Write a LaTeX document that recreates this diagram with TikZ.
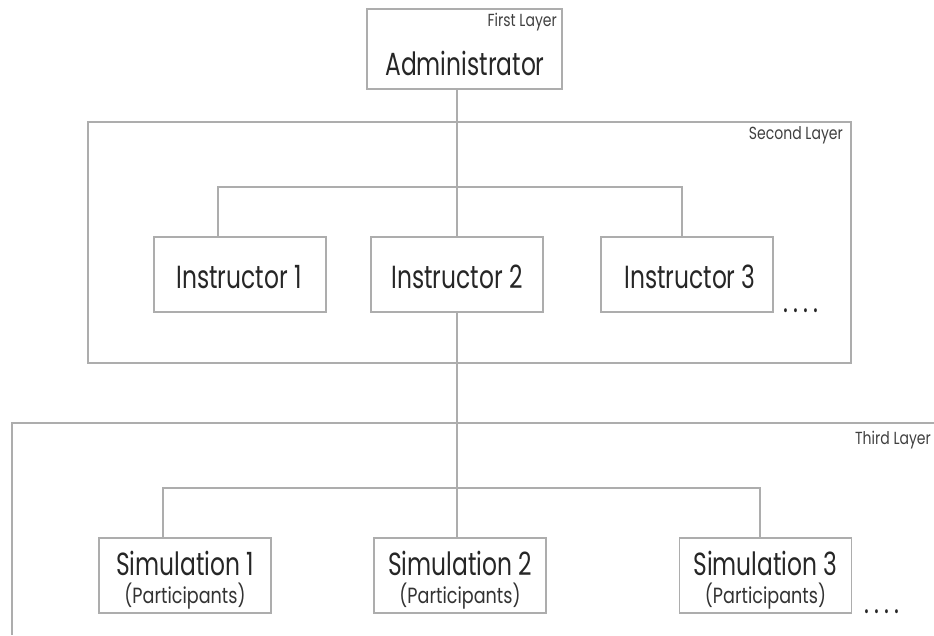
\documentclass[tikz,border=0pt]{standalone}
\usepackage{fontspec}
\setmainfont{Poppins}[FakeStretch=0.8]
\newfontfamily\bigf{Poppins}[FakeStretch=0.73]
\newfontfamily\smallf{Poppins}[FakeStretch=0.8]
\begin{document}
\begin{tikzpicture}[x=1pt,y=-1pt,
  line/.style={draw=black!32,line width=1.3pt},
  box/.style={line,rectangle,minimum width=172pt,minimum height=75pt,inner sep=0pt},
  bigtxt/.style={text=black!85,font=\bigf\fontsize{32}{36}\selectfont,inner sep=0pt},
  smalltxt/.style={text=black!80,font=\smallf\fontsize{22}{26}\selectfont,inner sep=0pt},
  layertxt/.style={text=black!75,font=\smallf\fontsize{17.5}{20}\selectfont,inner sep=0pt}]
\useasboundingbox (0,0) rectangle (934,635);
% layer frames
\draw[line] (88,122) rectangle (851,363);
\draw[line] (934,423) -- (12,423) -- (12,635);
% first layer
\node[box,minimum width=195pt,minimum height=80pt] (admin) at (464.5,49) {};
\node[bigtxt] (admintxt) at (465,63) {Administrator};
\node[layertxt,anchor=north east] (l1) at (557,13) {First Layer};
\node[layertxt,anchor=north east] (l2) at (843,126) {Second Layer};
\node[layertxt,anchor=north east] (l3) at (931,431) {Third Layer};
% instructors
\node[box] (i1) at (240,274.5) {};
\node[box] (i2) at (457,274.5) {};
\node[box] (i3) at (687,274.5) {};
\node[bigtxt] at (239,277) {Instructor 1};
\node[bigtxt] at (457,277) {Instructor 2};
\node[bigtxt] at (690,277) {Instructor 3};
\node[bigtxt,anchor=base] (dots1) at (801,312) {.\,.\,.\,.};
% simulations
\node[box] (s1) at (185,575.5) {};
\node[box] (s2) at (460,575.5) {};
\node[box] (s3) at (765.5,575.5) {};
\foreach \n/\x in {1/185,2/460,3/765.5}{
  \node[bigtxt] at (\x,563) {Simulation \n};
  \node[smalltxt] at (\x,596) {(Participants)};
}
\node[bigtxt,anchor=base] (dots2) at (882,613) {.\,.\,.\,.};
% connectors
\coordinate (j1) at (218,187);
\coordinate (j3) at (682,187);
\coordinate (k1) at (163,488);
\coordinate (k3) at (760,488);
\draw[line] (admin.south -| i2.north) -- (i2.north);
\draw[line] (j1 |- i1.north) -- (j1) -- (j3) -- (j3 |- i3.north);
\draw[line] (i2.south) -- (i2.south |- s2.north);
\draw[line] (k1 |- s1.north) -- (k1) -- (k3) -- (k3 |- s3.north);
\end{tikzpicture}
\end{document}
